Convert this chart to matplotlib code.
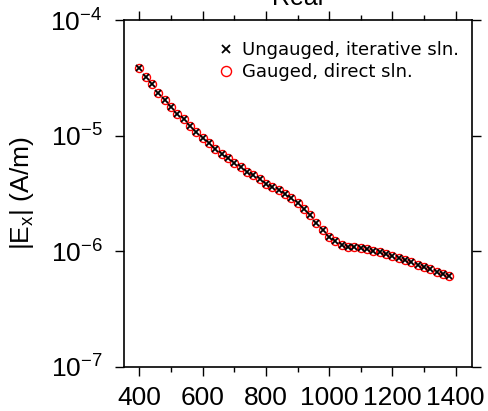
import matplotlib
matplotlib.use("Agg")
import matplotlib.pyplot as plt
from matplotlib.ticker import MultipleLocator, LogLocator, NullLocator

plt.rcParams['font.family'] = ['Liberation Sans', 'DejaVu Sans']
plt.rcParams['mathtext.fontset'] = 'custom'
plt.rcParams['mathtext.rm'] = 'Liberation Sans'
plt.rcParams['mathtext.it'] = 'Liberation Sans'
plt.rcParams['mathtext.bf'] = 'Liberation Sans:bold'

offset = [400, 420, 440, 460, 480, 500, 520, 540, 560, 580,
          600, 620, 640, 660, 680, 700, 720, 740, 760, 780,
          800, 820, 840, 860, 880, 900, 920, 940, 960, 980,
          1000, 1020, 1040, 1060, 1080, 1100, 1120, 1140, 1160, 1180,
          1200, 1220, 1240, 1260, 1280, 1300, 1320, 1340, 1360, 1380]
ex_ungauged = [3.87e-5, 3.24e-5, 2.78e-5, 2.35e-5, 2.02e-5, 1.78e-5, 1.55e-5, 1.39e-5, 1.22e-5, 1.08e-5,
               9.6e-6, 8.6e-6, 7.7e-6, 7.0e-6, 6.35e-6, 5.8e-6, 5.36e-6, 4.88e-6, 4.54e-6, 4.19e-6,
               3.84e-6, 3.58e-6, 3.37e-6, 3.11e-6, 2.87e-6, 2.62e-6, 2.31e-6, 2.05e-6, 1.77e-6, 1.53e-6,
               1.34e-6, 1.22e-6, 1.14e-6, 1.09e-6, 1.08e-6, 1.07e-6, 1.04e-6, 1.01e-6, 9.93e-7, 9.55e-7,
               9.17e-7, 8.81e-7, 8.41e-7, 8.03e-7, 7.66e-7, 7.32e-7, 7.0e-7, 6.67e-7, 6.41e-7, 6.08e-7]
ex_gauged = list(ex_ungauged)

fig = plt.figure(figsize=(4.88, 4.11), dpi=100)
ax = fig.add_axes([124/488, 44/411, 348/488, 347/411])

h_o, = ax.plot(offset, ex_gauged, linestyle='none', marker='o', markersize=5.8,
               markerfacecolor='none', markeredgecolor='red', markeredgewidth=1.0,
               label='Gauged, direct sln.')
h_x, = ax.plot(offset, ex_ungauged, linestyle='none', marker='x', markersize=5,
               color='black', markeredgewidth=1.3, label='Ungauged, iterative sln.')

ax.set_yscale('log')
ax.set_ylim(1e-7, 1e-4)
ax.set_xlim(351, 1452)
ax.xaxis.set_major_locator(MultipleLocator(200))
ax.xaxis.set_minor_locator(MultipleLocator(100))
ax.yaxis.set_major_locator(LogLocator(base=10, numticks=10))
ax.yaxis.set_minor_locator(NullLocator())

ax.tick_params(which='both', direction='out', top=True, right=True, width=1)
ax.tick_params(which='major', length=6.5, labelsize=19)
ax.tick_params(axis='x', which='major', pad=7)
ax.tick_params(axis='y', which='major', pad=9)
ax.tick_params(which='minor', length=3.5)
for s in ax.spines.values():
    s.set_linewidth(1.2)

ax.set_ylabel(r'|E$_\mathrm{x}$| (A/m)', fontsize=19, labelpad=10)
ax.set_title('Real', fontsize=18, pad=11)

leg = ax.legend(handles=[h_x, h_o], loc='upper right', frameon=False,
                prop={'family': 'DejaVu Sans', 'size': 13}, handlelength=0.6,
                handletextpad=0.6, borderaxespad=0.3, labelspacing=0.2,
                markerscale=1.25, bbox_to_anchor=(1.0, 0.975))

fig.savefig('out.png', dpi=100)
